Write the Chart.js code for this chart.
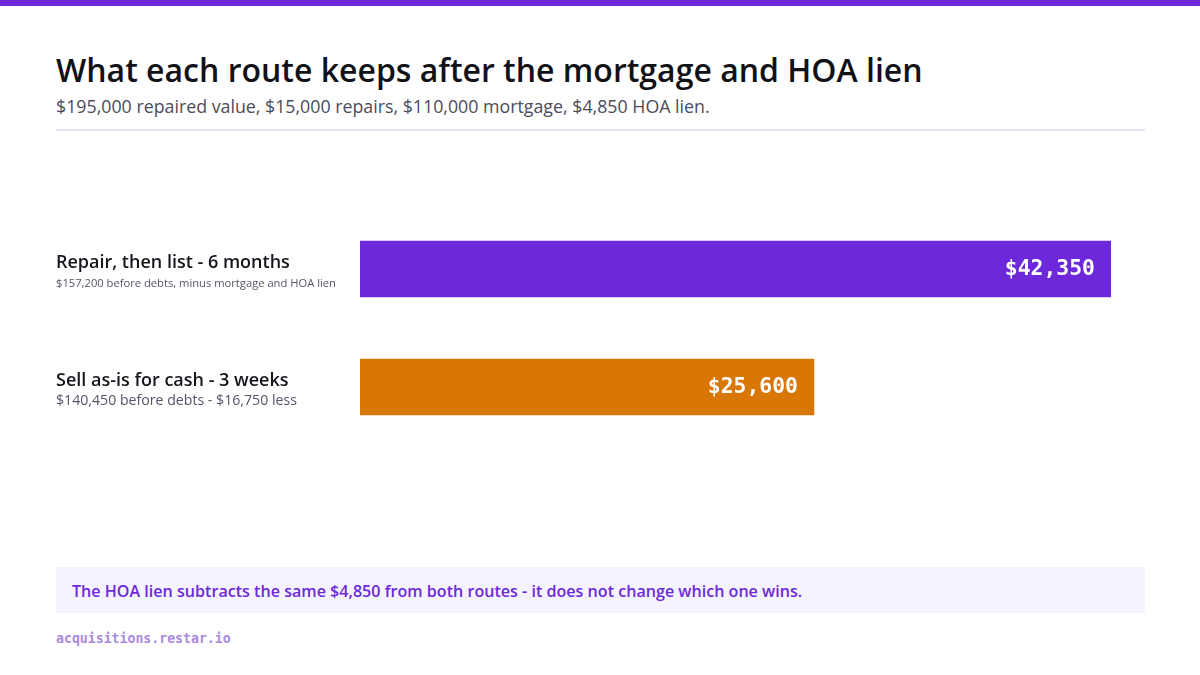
<!DOCTYPE html>
<html>
<head>
<meta charset="utf-8">
<script src="https://cdn.jsdelivr.net/npm/chart.js@4.4.1/dist/chart.umd.min.js"></script>
<style>
  html,body{margin:0;padding:0;background:#fff;}
  body{width:1200px;height:675px;position:relative;overflow:hidden;font-family:"Open Sans","Noto Sans",sans-serif;}
  #topbar{position:absolute;left:0;top:0;width:1200px;height:6px;background:#6d28d9;}
  #title{position:absolute;left:56px;top:48px;font-size:32px;font-weight:600;color:#111118;white-space:nowrap;}
  #subtitle{position:absolute;left:56px;top:94px;font-size:17.8px;color:#4b4b5c;white-space:nowrap;}
  #divider{position:absolute;left:56px;top:129px;width:1089px;height:2px;background:#e4e2ee;}
  #wrap{position:absolute;left:56px;top:210px;width:1089px;height:236px;}
  #note{position:absolute;left:56px;top:567px;width:1089px;height:46px;background:#f5f3ff;box-sizing:border-box;padding-left:16px;line-height:48px;font-size:16.1px;font-weight:600;color:#6d28d9;white-space:nowrap;}
  #footer{position:absolute;left:56px;top:631px;font-family:"DejaVu Sans Mono",monospace;font-weight:bold;font-size:13.2px;color:#a78bdf;}
</style>
</head>
<body>
<div id="topbar"></div>
<div id="title">What each route keeps after the mortgage and HOA lien</div>
<div id="subtitle">$195,000 repaired value, $15,000 repairs, $110,000 mortgage, $4,850 HOA lien.</div>
<div id="divider"></div>
<div id="wrap"><canvas id="c"></canvas></div>
<div id="note">The HOA lien subtracts the same $4,850 from both routes - it does not change which one wins.</div>
<div id="footer">acquisitions.restar.io</div>
<script>
const categories = ["Repair, then list - 6 months", "Sell as-is for cash - 3 weeks"];
const subLabels = ["$157,200 before debts, minus mortgage and HOA lien", "$140,450 before debts - $16,750 less"];
const netValues = [42350, 25600];
const valueLabels = ["$42,350", "$25,600"];
const barColors = ["#6d28d9", "#d97706"];

const labelPlugin = {
  id: 'sideLabels',
  afterDatasetsDraw(chart) {
    const ctx = chart.ctx;
    const y = chart.scales.y;
    const meta = chart.getDatasetMeta(0);
    ctx.save();
    categories.forEach((cat, i) => {
      const cy = y.getPixelForValue(i);
      ctx.textAlign = 'left';
      ctx.textBaseline = 'alphabetic';
      ctx.fillStyle = '#15151c';
      ctx.font = '600 18px "Open Sans", "Noto Sans", sans-serif';
      ctx.fillText(cat, 0, cy - 1);
      let fs = 14.15;
      const maxW = 280;
      ctx.font = fs + 'px "Open Sans", "Noto Sans", sans-serif';
      let w = ctx.measureText(subLabels[i]).width;
      if (w > maxW) { fs = fs * maxW / w; ctx.font = fs.toFixed(2) + 'px "Open Sans", "Noto Sans", sans-serif'; }
      ctx.fillStyle = '#55556a';
      ctx.fillText(subLabels[i], 0, cy + 18);
      const bar = meta.data[i];
      ctx.font = 'bold 21.4px "DejaVu Sans Mono", monospace';
      ctx.fillStyle = '#ffffff';
      ctx.textAlign = 'right';
      ctx.textBaseline = 'middle';
      ctx.fillText(valueLabels[i], bar.x - 16, bar.y);
    });
    ctx.restore();
  }
};

new Chart(document.getElementById('c'), {
  type: 'bar',
  data: {
    labels: categories,
    datasets: [{
      data: netValues,
      backgroundColor: barColors,
      borderWidth: 0,
      barThickness: 56
    }]
  },
  options: {
    indexAxis: 'y',
    responsive: true,
    maintainAspectRatio: false,
    animation: false,
    layout: { padding: { left: 304, right: 34, top: 0, bottom: 0 } },
    plugins: { legend: { display: false }, tooltip: { enabled: false } },
    scales: {
      x: { display: false, min: 0, max: Math.max(...netValues) },
      y: { display: false }
    }
  },
  plugins: [labelPlugin]
});
</script>
</body>
</html>
